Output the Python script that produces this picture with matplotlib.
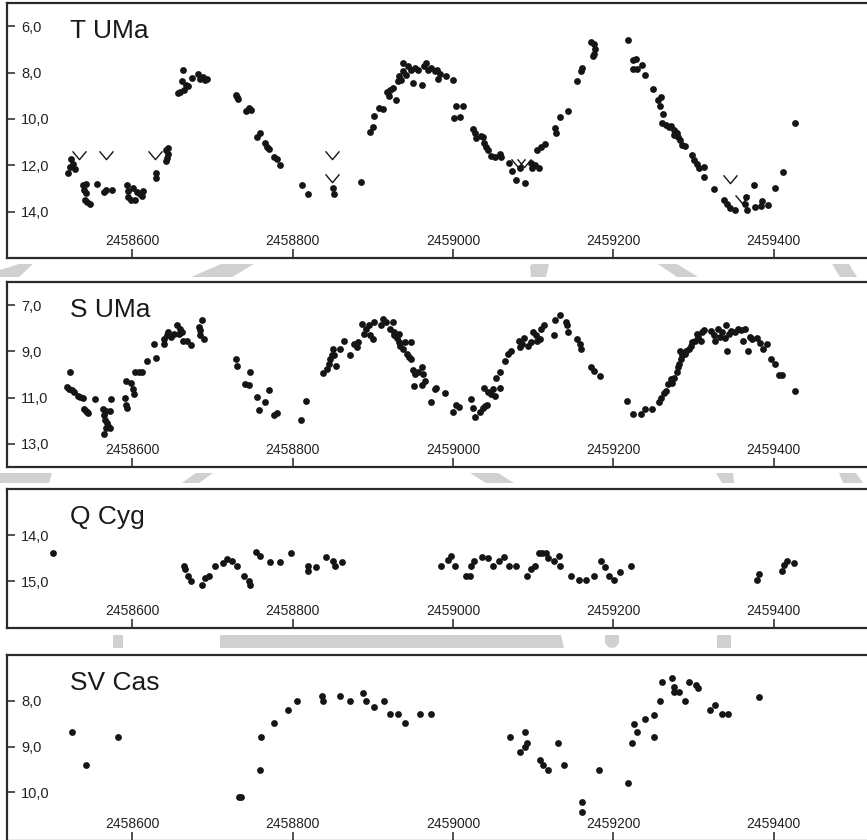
import numpy as np
import matplotlib
matplotlib.use("Agg")
import matplotlib.pyplot as plt
from matplotlib.path import Path
from matplotlib.patches import Polygon
from matplotlib.ticker import FuncFormatter
from matplotlib.transforms import offset_copy

plt.rcParams['font.family'] = ['Liberation Sans', 'DejaVu Sans']

# Julian dates are stored as days after JD0
JD0 = 2458000

# T UMa: observations
t_uma_day = [520, 522, 524, 526, 528, 538, 542, 540, 542, 541, 544, 547, 556, 565, 567, 575,
             594, 595, 595, 598, 601, 603, 606, 609, 612, 613, 629, 630, 642, 643, 642, 645, 645,
             657, 660, 663, 662, 665, 667, 670, 675, 682, 684, 688, 691, 693,
             729, 731, 732, 742, 745, 748, 756, 759, 765, 768, 771, 777, 780, 784,
             812, 819, 850, 851, 885,
             897, 900, 902, 908, 913, 918, 920, 922, 925, 929, 931, 933, 935, 937, 938, 941, 944,
             947, 950, 952, 956, 961, 964, 966, 969, 972, 977, 980, 981, 984, 991, 1000,
             1004, 1012, 1001, 1009, 1025, 1027, 1029, 1035, 1037, 1039, 1041, 1043, 1047, 1052,
             1058, 1060, 1070, 1073, 1083, 1078, 1090, 1097, 1099, 1102, 1105, 1107, 1110, 1115,
             1127, 1129, 1134, 1143, 1155, 1159, 1161, 1172, 1176, 1177, 1176, 1175,
             1218, 1225, 1228, 1224, 1229, 1236, 1239, 1250, 1256, 1259, 1258, 1262, 1261, 1266,
             1269, 1272, 1275, 1277, 1279, 1281, 1283, 1285, 1289, 1276, 1298, 1300, 1304, 1307,
             1313, 1313, 1326, 1338, 1342, 1345, 1352, 1365, 1364, 1367, 1375, 1377, 1384, 1385,
             1393, 1402, 1411, 1427]
t_uma_mag = [12.34, 12.07, 11.75, 11.95, 12.14, 12.86, 12.79, 13.08, 13.19, 13.48, 13.58, 13.68,
             12.82, 13.15, 13.05, 13.08,
             12.86, 13.10, 13.36, 13.48, 12.99, 13.51, 13.15, 13.22, 13.34, 13.10, 12.32, 12.57,
             11.34, 11.70, 11.80, 11.24, 11.52,
             8.89, 8.82, 7.88, 8.38, 8.74, 8.53, 8.57, 8.24, 8.05, 8.27, 8.19, 8.31, 8.28,
             8.96, 9.06, 9.15, 9.64, 9.54, 9.61, 10.79, 10.59, 11.05, 11.20, 11.31, 11.66, 11.75, 11.99,
             12.86, 13.22, 13.00, 13.22, 12.71,
             10.55, 10.33, 9.87, 9.54, 9.58, 8.86, 9.03, 8.74, 8.67, 9.18, 8.38, 8.17, 8.31, 7.95,
             7.59, 8.09, 7.73, 7.88, 8.45, 7.80, 7.88, 8.53, 7.73, 7.59, 7.88, 7.80, 7.95, 7.87,
             8.28, 8.05, 8.16, 8.34,
             9.46, 9.46, 9.97, 9.92, 10.44, 10.62, 10.84, 10.74, 10.80, 11.05, 11.20, 11.34, 11.60,
             11.63, 11.50, 11.65, 11.90, 12.26, 12.10, 12.64, 12.76, 11.90, 12.10, 12.00, 11.32,
             12.10, 11.20, 11.08,
             10.40, 10.62, 9.90, 9.66, 8.38, 7.94, 7.79, 6.69, 6.79, 7.00, 7.20, 7.30,
             6.61, 7.44, 7.41, 7.84, 7.84, 7.69, 8.09, 8.71, 9.17, 9.06, 9.46, 9.77, 10.18, 10.26,
             10.33, 10.30, 10.47, 10.55, 10.62, 10.76, 10.91, 11.12, 11.19, 10.69, 11.56, 11.77,
             11.95, 12.10, 12.09, 12.52, 13.01, 13.50, 13.65, 13.86, 13.94, 13.36, 13.68, 13.91,
             12.83, 13.82, 13.76, 13.55, 13.72, 12.97, 12.28, 10.18]
# T UMa: fainter-than limits
t_uma_lim_day = [534, 567, 628, 849, 849, 1081, 1088, 1345, 1360]
t_uma_lim_mag = [11.56, 11.56, 11.56, 11.56, 12.57, 11.90, 11.90, 12.59, 13.45]

# S UMa
s_uma_day = [518, 521, 522, 525, 527, 532, 535, 538, 540, 542, 544, 545, 554, 564, 565, 567,
             566, 569, 570, 565, 567, 572, 573, 572, 591, 592, 593, 592, 598, 601, 602, 604,
             608, 612, 618, 629, 627, 639, 640, 643, 645, 648, 652, 656, 658, 660, 662, 663,
             668, 673, 683, 685, 687, 685, 690,
             729, 730, 741, 745, 747, 755, 765, 758, 770, 777, 780, 811, 817,
             838, 843, 845, 847, 850, 849, 852, 854, 859, 864, 872, 877, 882, 880, 887, 889,
             892, 895, 897, 900, 902, 910, 913, 917, 925, 922, 926, 927, 930, 932, 934, 933,
             937, 940, 942, 945, 947, 948, 950, 952, 951, 956, 961, 963, 961, 965, 972, 977,
             979, 990, 1000, 1004, 1007, 1023, 1025, 1027, 1034, 1037, 1040, 1042, 1038, 1043,
             1047, 1050, 1052, 1054, 1058, 1058, 1065, 1069, 1072, 1082, 1083, 1086, 1088, 1093,
             1097, 1100, 1104, 1105, 1109, 1113, 1110, 1126, 1127, 1133, 1141, 1142, 1143, 1154,
             1158, 1160, 1172, 1176, 1183,
             1217, 1225, 1234, 1240, 1248, 1257, 1259, 1263, 1266, 1268, 1272, 1273, 1276, 1279,
             1280, 1282, 1284, 1283, 1286, 1289, 1291, 1294, 1297, 1298, 1302, 1304, 1306, 1309,
             1311, 1313, 1322, 1325, 1327, 1330, 1333, 1336, 1339, 1341, 1342, 1344, 1347, 1352,
             1355, 1359, 1362, 1364, 1368, 1370, 1373, 1379, 1383, 1387, 1391, 1397, 1401, 1407,
             1410, 1426]
s_uma_mag = [10.52, 10.64, 9.88, 10.68, 10.76, 10.93, 10.96, 11.00, 11.51, 11.59, 11.63, 11.66,
             11.08, 11.51, 11.73, 11.59, 11.95, 12.09, 12.24, 12.56, 12.31, 12.31, 11.05, 11.59,
             11.00, 11.34, 11.44, 10.28, 10.35, 10.61, 10.86, 9.91, 9.88, 9.88, 9.40, 9.30, 8.67,
             8.46, 8.67, 8.31, 8.16, 8.38, 8.24, 7.84, 8.24, 8.02, 8.16, 8.53, 8.57, 8.72, 7.95,
             8.09, 7.66, 8.31, 8.48,
             9.35, 9.65, 10.42, 10.46, 9.88, 10.96, 11.19, 11.54, 10.67, 11.73, 11.66, 11.95, 11.15,
             9.94, 9.77, 9.55, 9.33, 8.89, 9.15, 9.15, 9.65, 8.89, 8.57, 9.15, 8.67, 8.60, 8.82,
             7.80, 8.24, 8.05, 7.87, 8.31, 8.46, 7.73, 7.87, 7.61, 7.73, 7.73, 8.02, 8.16, 8.31,
             8.43, 8.60, 8.75, 8.24, 8.89, 8.60, 9.11, 9.26, 8.60, 9.33, 9.79, 9.98, 10.49, 9.91,
             9.69, 9.98, 10.46, 10.28, 11.19, 10.64,
             10.57, 10.81, 11.63, 11.34, 11.40, 11.05, 11.44, 11.83, 11.63, 11.44, 11.37, 11.34,
             10.57, 10.76, 10.86, 10.64, 10.93, 10.17, 9.88, 10.57, 9.40, 9.11, 8.97, 8.53, 8.82,
             8.67, 8.43, 8.75, 8.60, 8.16, 8.31, 8.53, 8.46, 7.87, 8.02, 8.28, 7.66, 7.44, 7.73,
             7.87, 8.16, 8.46, 8.67, 8.89, 9.69, 9.84, 10.06,
             11.16, 11.69, 11.69, 11.48, 11.48, 11.19, 11.00, 10.78, 10.71, 10.42, 10.20, 10.35,
             10.13, 9.88, 9.69, 9.55, 9.33, 8.97, 9.15, 9.11, 8.97, 8.89, 8.75, 8.60, 8.53, 8.24,
             8.38, 8.53, 8.16, 8.09, 8.13, 8.28, 8.57, 8.02, 8.38, 8.16, 8.43, 7.87, 8.97, 8.24,
             8.13, 8.16, 8.05, 8.09, 8.57, 8.05, 8.97, 8.38, 8.46, 8.43, 8.63, 8.89, 8.67, 9.33,
             9.55, 10.03, 10.03, 10.71]

# Q Cyg
q_cyg_day = [501, 665, 666, 670, 673, 687, 691, 696, 703, 713, 718, 724, 731, 739, 745, 747,
             754, 759, 772, 784, 798, 819, 819, 829, 841, 850, 853, 862,
             985, 994, 998, 1003, 1016, 1021, 1023, 1026, 1036, 1043, 1050, 1057, 1063, 1070,
             1079, 1092, 1097, 1102, 1107, 1111, 1116, 1119, 1126, 1133, 1132, 1147, 1157, 1166,
             1176, 1185, 1190, 1195, 1201, 1208, 1222,
             1379, 1382, 1410, 1413, 1416, 1425]
q_cyg_mag = [14.38, 14.66, 14.73, 14.89, 15.00, 15.09, 14.93, 14.88, 14.67, 14.60, 14.51, 14.56,
             14.67, 14.89, 15.00, 15.09, 14.36, 14.45, 14.58, 14.58, 14.38, 14.66, 14.78, 14.69,
             14.47, 14.56, 14.66, 14.58,
             14.67, 14.53, 14.45, 14.67, 14.89, 14.89, 14.67, 14.56, 14.47, 14.49, 14.66, 14.56,
             14.47, 14.66, 14.67, 14.89, 14.74, 14.66, 14.39, 14.39, 14.39, 14.49, 14.56, 14.67,
             14.45, 14.89, 14.98, 14.98, 14.89, 14.56, 14.69, 14.89, 14.98, 14.80, 14.66,
             14.98, 14.85, 14.78, 14.64, 14.56, 14.60]

# SV Cas
sv_cas_day = [525, 542, 582, 733, 736, 759, 761, 777, 794, 805, 836, 838, 859, 872, 888, 891,
              902, 914, 922, 931, 940, 959, 973,
              1071, 1083, 1090, 1092, 1090, 1109, 1112, 1119, 1131, 1139, 1161, 1161, 1182,
              1218, 1223, 1226, 1230, 1240, 1251, 1251, 1258, 1260, 1273, 1275, 1275, 1282,
              1289, 1294, 1303, 1305, 1320, 1327, 1335, 1343, 1382]
sv_cas_mag = [8.69, 9.40, 8.80, 10.09, 10.09, 9.51, 8.80, 8.49, 8.20, 8.00, 7.89, 8.00, 7.89,
              8.00, 7.82, 8.00, 8.14, 8.00, 8.29, 8.29, 8.49, 8.29, 8.29,
              8.80, 9.11, 8.69, 8.93, 9.01, 9.29, 9.40, 9.50, 8.91, 9.40, 10.20, 10.42, 9.50,
              9.80, 8.93, 8.50, 8.69, 8.40, 8.31, 8.80, 8.00, 7.60, 7.50, 7.69, 7.80, 7.80,
              8.00, 7.60, 7.65, 7.72, 8.20, 8.09, 8.29, 8.29, 7.92]

x_ticks = [2458600, 2458800, 2459000, 2459200, 2459400]

# panel: name, data, y-range (faint, bright), y ticks, top / bottom in pixels
panels = [
    ("T UMa", t_uma_day, t_uma_mag, (16, 5), [6, 8, 10, 12, 14], 3, 258),
    ("S UMa", s_uma_day, s_uma_mag, (14, 6), [7, 9, 11, 13], 282, 467),
    ("Q Cyg", q_cyg_day, q_cyg_mag, (16, 13), [14, 15], 489, 627.5),
    ("SV Cas", sv_cas_day, sv_cas_mag, (11.06, 7), [8, 9, 10], 655, 841),
]

W, H = 867, 840
fig = plt.figure(figsize=(W / 100, H / 100), dpi=100)

# light grey watermark fragments visible between the panels (pixel coords)
grey = '#d0d0d0'
shapes = [
    [(19, 264), (33, 264), (19, 277), (0, 277), (0, 270)],
    [(221, 264), (254, 264), (232, 277), (191, 277)],
    [(532, 264), (549, 264), (546, 277), (531, 277), (530, 266)],
    [(658, 264), (677, 264), (698, 277), (677, 277)],
    [(832, 264), (849, 264), (857, 277), (840, 277)],
    [(0, 473), (52, 473), (49, 483), (0, 483)],
    [(196, 473), (213, 473), (199, 483), (182, 483)],
    [(470, 473), (498, 473), (514, 483), (486, 483)],
    [(716, 473), (733, 473), (734, 483), (722, 483)],
    [(839, 473), (856, 473), (863, 483), (843, 483)],
    [(113, 635), (123, 635), (123, 648), (113, 648)],
    [(220, 635), (561, 635), (564, 648), (220, 648)],
    [(605, 635), (619, 635), (619, 643), (616, 647), (612, 648), (608, 647), (605, 643)],
    [(717, 635), (731, 635), (731, 648), (717, 648)],
]
for s in shapes:
    pts = [(x / W, 1 - y / H) for x, y in s]
    fig.patches.append(Polygon(pts, closed=True, transform=fig.transFigure,
                               facecolor=grey, edgecolor='none', zorder=-1))

comma = FuncFormatter(lambda v, p: f"{v:.1f}".replace('.', ','))
vmark = Path([(-1, 0.6), (0, -0.6), (1, 0.6)], [Path.MOVETO, Path.LINETO, Path.LINETO])

for name, day, mag, ylim, yticks, top, bottom in panels:
    ax = fig.add_axes([7 / W, 1 - bottom / H, (872 - 7) / W, (bottom - top) / H])
    ax.scatter(JD0 + np.array(day), mag, s=24, color='#151515', linewidths=0, zorder=3)
    if name == "T UMa":
        ax.plot(JD0 + np.array(t_uma_lim_day), t_uma_lim_mag, linestyle='none',
                marker=vmark, markersize=10, markerfacecolor='none',
                markeredgecolor='#151515', markeredgewidth=1.0, zorder=3)
    ax.set_xlim(2458443.75, 2459522.5)
    ax.set_ylim(*ylim)
    ax.set_xticks(x_ticks)
    ax.xaxis.set_major_formatter(FuncFormatter(lambda v, p: f"{v:.0f}"))
    ax.set_yticks(yticks)
    ax.yaxis.set_major_formatter(comma)
    ax.tick_params(axis='x', direction='in', length=6.5, width=1.1, pad=-17,
                   labelsize=10, color='#222222', labelcolor='#222222')
    ax.tick_params(axis='y', direction='in', length=5.5, width=1.1, pad=-10,
                   labelsize=10.5, color='#222222', labelcolor='#222222')
    plt.setp(ax.get_yticklabels(), ha='left')
    for sp in ax.spines.values():
        sp.set_linewidth(1.6)
        sp.set_color('#2a2a2a')
    tr = offset_copy(ax.transAxes, fig=fig, x=63, y=-35, units='dots')
    ax.text(0, 1, name, transform=tr, ha='left', va='baseline', fontsize=19, color='#1a1a1a')

fig.savefig('out.png', dpi=100)
